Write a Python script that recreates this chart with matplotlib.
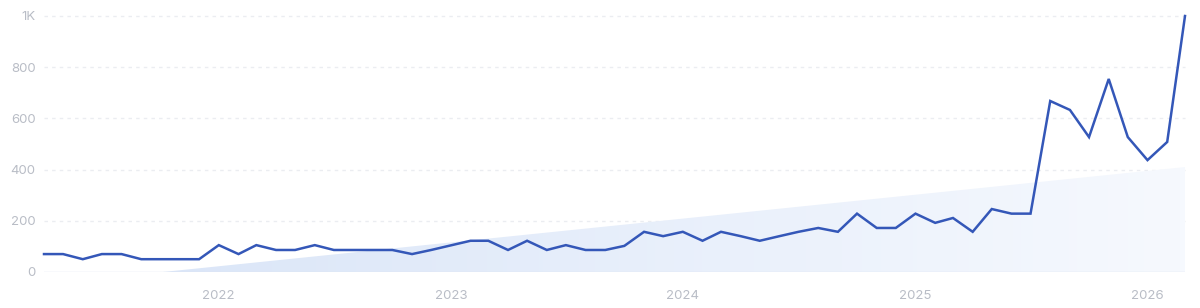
import matplotlib
matplotlib.use("Agg")
import matplotlib.pyplot as plt
import matplotlib.dates as mdates
import numpy as np
import pandas as pd
from matplotlib.colors import LinearSegmentedColormap
from matplotlib.patches import Polygon

# ── Data ──────────────────────────────────────────────────────────────────────
start_month = "2021-04-01"
values = [
    70, 70, 50, 70, 70, 50, 50, 50, 50,                 # 2021 Apr-Dec
    105, 70, 105, 86, 86, 105, 86, 86, 86, 86, 70, 86,  # 2022
    104, 122, 122, 86, 122, 86, 105, 86, 86, 102, 157, 140,  # 2023
    157, 122, 157, 140, 122, 140, 157, 172, 157, 228, 172, 172,  # 2024
    228, 192, 211, 157, 246, 228, 228, 668, 633, 527, 754, 527,  # 2025
    437, 508, 1000,                                     # 2026 Jan-Mar
]
months = pd.date_range(start_month, periods=len(values), freq="MS")

# trend wedge (start / end)
trend_dates = pd.to_datetime(["2021-10-05", "2026-03-01"])
trend_values = [0, 410]

ytick_vals = [0, 200, 400, 600, 800, 1000]
ytick_labels = ["0", "200", "400", "600", "800", "1K"]
year_ticks = pd.to_datetime(["2022-01-01", "2023-01-01", "2024-01-01",
                             "2025-01-01", "2026-01-01"])
year_labels = ["2022", "2023", "2024", "2025", "2026"]

# ── Styling ───────────────────────────────────────────────────────────────────
C_LINE = "#3457b8"
C_TICK = "#b9bdc6"
C_GRID = "#ebedf1"
C_BASE = "#dde4f2"

plt.rcParams.update({"font.family": ["Inter", "DejaVu Sans"], "font.size": 9.5})

fig = plt.figure(figsize=(12, 3.08), dpi=100)
ax = fig.add_axes([44 / 1200, 36 / 308, (1185 - 44) / 1200, (272 - 16) / 308])

xd = mdates.date2num(months)

# gradient-filled trend wedge
tx = mdates.date2num(trend_dates)
poly = Polygon([(tx[0], trend_values[0]), (tx[1], trend_values[1]), (tx[1], 0)],
               closed=True, facecolor="none", edgecolor="none")
ax.add_patch(poly)
cmap = LinearSegmentedColormap.from_list("fade", ["#dbe6f8", "#f6f9fe"])
grad = np.linspace(0, 1, 256).reshape(1, -1)
im = ax.imshow(grad, cmap=cmap, aspect="auto", extent=(tx[0], tx[1], 0, trend_values[1]),
               zorder=1, interpolation="bilinear")
im.set_clip_path(poly)
ax.set_xlim(xd[0], xd[-1])
ax.set_ylim(0, 1000)

# grid
for v in ytick_vals[1:]:
    ax.axhline(v, color=C_GRID, lw=1, ls=(0, (2.5, 3)), zorder=0.5, clip_on=False)
ax.axhline(0, color=C_BASE, lw=1, zorder=2)

ax.plot(xd, values, color=C_LINE, lw=1.8, zorder=3, clip_on=False,
        solid_joinstyle="miter")

ax.set_yticks(ytick_vals)
ax.set_yticklabels(ytick_labels)
ax.set_xticks(mdates.date2num(year_ticks))
ax.set_xticklabels(year_labels)
ax.tick_params(axis="both", length=0, colors=C_TICK, labelsize=9.5)
ax.tick_params(axis="y", pad=6)
ax.tick_params(axis="x", pad=13)
for s in ax.spines.values():
    s.set_visible(False)

fig.savefig("out.png", dpi=100, facecolor="white")
